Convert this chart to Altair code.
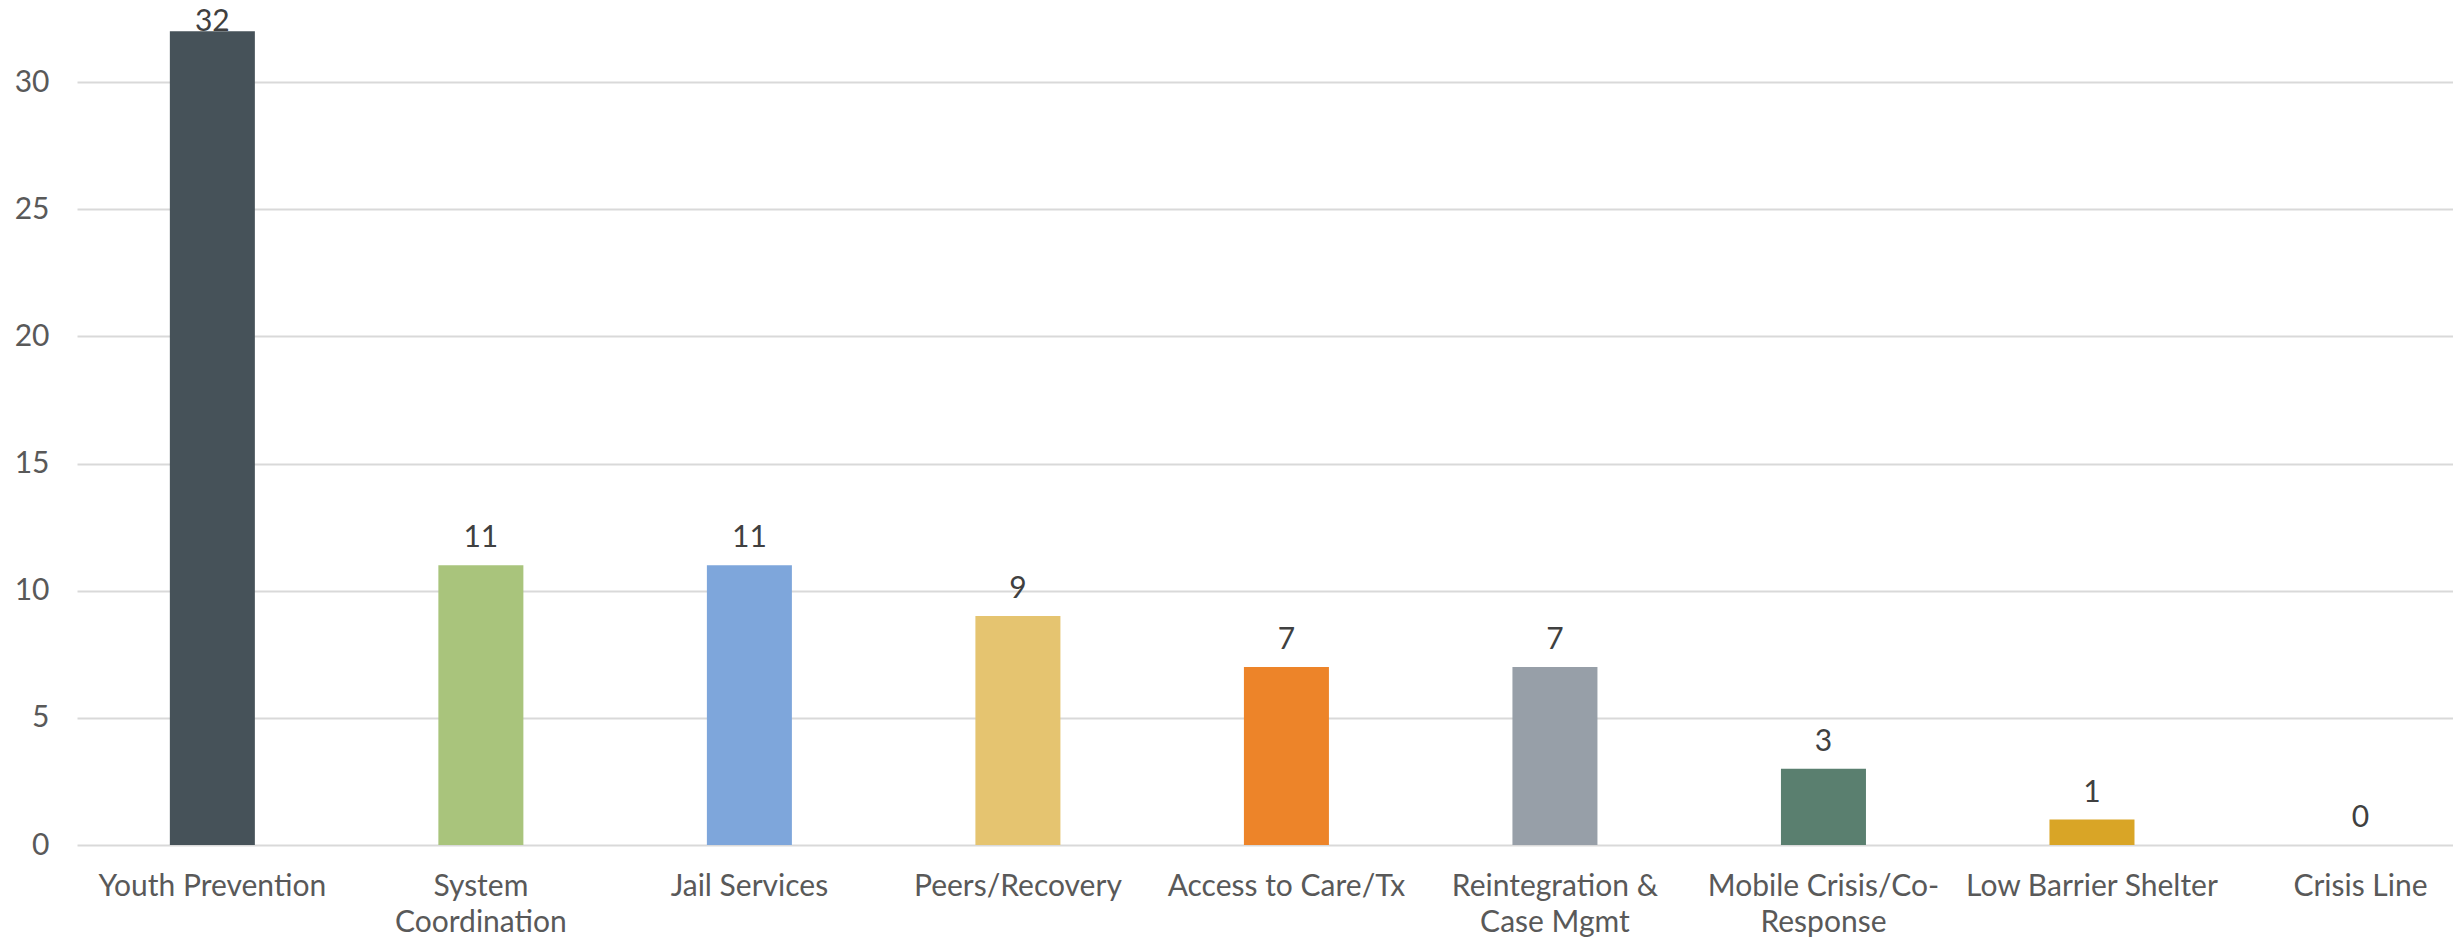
import altair as alt
import pandas as pd

categories = [
    "Youth Prevention",
    "System\nCoordination",
    "Jail Services",
    "Peers/Recovery",
    "Access to Care/Tx",
    "Reintegration &\nCase Mgmt",
    "Mobile Crisis/Co-\nResponse",
    "Low Barrier Shelter",
    "Crisis Line",
]
counts = [32, 11, 11, 9, 7, 7, 3, 1, 0]
bar_colors = ["#465259", "#A9C47C", "#7EA6DB", "#E5C470", "#ED8429",
              "#979FA8", "#5A7F6F", "#D9A526", "#7F7F7F"]
y_ticks = [0, 5, 10, 15, 20, 25, 30]

df = pd.DataFrame({"category": categories, "count": counts})

FONT = "Lato"
Y_MAX = 32.91

x_enc = alt.X(
    "category:N",
    sort=categories,
    scale=alt.Scale(paddingInner=0.6834, paddingOuter=0.266, align=0.65),
    axis=alt.Axis(
        title=None,
        labelAngle=0,
        labelExpr="split(datum.label, '\\n')",
        labelFont=FONT,
        labelFontSize=30,
        labelColor="#595959",
        labelBaseline="alphabetic",
        labelPadding=50,
        labelLineHeight=36,
        labelLimit=400,
        domain=False,
        ticks=False,
        tickSize=0,
        grid=False,
    ),
)

y_enc = alt.Y(
    "count:Q",
    scale=alt.Scale(domain=[0, Y_MAX], nice=False, zero=True),
    axis=alt.Axis(
        title=None,
        values=y_ticks,
        labelFont=FONT,
        labelFontSize=30,
        labelColor="#595959",
        labelPadding=28,
        domain=False,
        ticks=False,
        tickSize=0,
        grid=True,
        gridColor="#D9D9D9",
        gridWidth=2,
    ),
)

base = alt.Chart(df)

bars = base.mark_bar().encode(
    x=x_enc,
    y=y_enc,
    color=alt.Color("category:N", scale=alt.Scale(domain=categories, range=bar_colors), legend=None),
)

# Labels that fit above their bar
labels = base.transform_filter(alt.datum.count < 31).mark_text(
    font=FONT, fontSize=30, color="#404040", baseline="alphabetic", dy=-18
).encode(
    x=alt.X("category:N", sort=categories),
    y=alt.Y("count:Q"),
    text=alt.Text("count:Q"),
)

# Label of the tallest bar is pushed down to stay inside the chart (as Excel does)
top_labels = base.transform_filter(alt.datum.count >= 31).mark_text(
    font=FONT, fontSize=30, color="#404040", baseline="alphabetic", dy=0
).encode(
    x=alt.X("category:N", sort=categories),
    y=alt.Y("count:Q"),
    text=alt.Text("count:Q"),
)

chart = (
    alt.layer(bars, labels, top_labels)
    .properties(
        width=2376,
        height=837,
        autosize=alt.AutoSizeParams(type="none"),
        padding={"left": 69, "top": 0, "right": 0, "bottom": 94},
        background="white",
    )
    .configure_view(stroke=None)
)

chart.save("out.html", embed_options={"renderer": "svg", "actions": False})
